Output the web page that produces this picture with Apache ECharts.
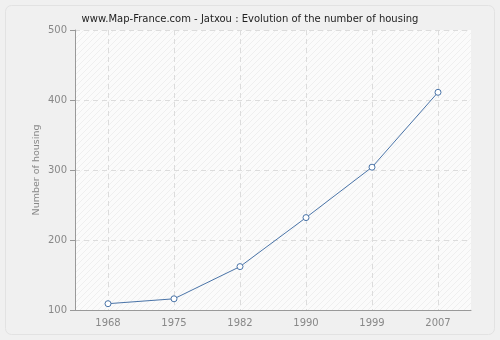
<!DOCTYPE html>
<html><head><meta charset="utf-8">
<script src="https://cdn.jsdelivr.net/npm/echarts@6/dist/echarts.min.js"></script>
<style>html,body{margin:0;padding:0;background:#f0f0f0}#c{width:500px;height:340px}</style>
</head><body><div id="c"></div>
<script>
var years = ['1968','1975','1982','1990','1999','2007'];
var housing = [109, 116, 162, 232, 304, 411];
var yTicks = [100, 200, 300, 400, 500];

var pc = document.createElement('canvas');
pc.width = 6; pc.height = 6;
var g = pc.getContext('2d');
g.fillStyle = '#fbfbfb'; g.fillRect(0,0,6,6);
g.strokeStyle = '#efefef'; g.lineWidth = 1;
g.beginPath(); g.moveTo(0,6); g.lineTo(6,0); g.stroke();
g.beginPath(); g.moveTo(-1,1); g.lineTo(1,-1); g.stroke();
g.beginPath(); g.moveTo(5,7); g.lineTo(7,5); g.stroke();

// helper axis with half-step slots so vertical grid lines pass through category centers
var halfSlots = [];
for (var i = 0; i <= years.length * 2; i++) halfSlots.push(String(i));

var labelFont = {color:'#888', fontFamily:'DejaVu Sans', fontSize:10};
var dash = {color:'#dcdcdc', type:[5,4], width:1};

var chart = echarts.init(document.getElementById('c'), null, {renderer:'canvas'});
chart.setOption({
  backgroundColor: '#f0f0f0',
  animation: false,
  graphic: [{type:'rect', shape:{x:5.5,y:5.5,width:489,height:329,r:6}, style:{fill:'#f0f0f0', stroke:'#e2e2e2', lineWidth:1}, z:-10}],
  title: {text:'www.Map-France.com - Jatxou : Evolution of the number of housing', left:'center', top:9,
    textStyle:{fontFamily:'DejaVu Sans', fontSize:10, fontWeight:'normal', color:'#222'}},
  grid: {left:75, right:29, top:30, bottom:30, show:true, borderWidth:0, backgroundColor:{image:pc, repeat:'repeat'}},
  xAxis: [{type:'category', data:years, boundaryGap:true,
    axisLine:{lineStyle:{color:'#999'}}, axisTick:{alignWithLabel:true, length:5, lineStyle:{color:'#999'}},
    axisLabel:Object.assign({margin:8}, labelFont),
    splitLine:{show:false}},
   {type:'category', data:halfSlots, boundaryGap:false, position:'bottom',
    axisLine:{show:false}, axisTick:{show:false}, axisLabel:{show:false},
    splitLine:{show:true, interval:function(idx){return idx % 2 === 1;}, lineStyle:dash}}],
  yAxis: {type:'value', min:100, max:500, interval:100, name:'Number of housing', nameLocation:'middle', nameGap:33,
    nameMoveOverlap:false,
    nameTextStyle:{color:'#888', fontFamily:'DejaVu Sans', fontSize:9.5},
    axisLine:{show:true, lineStyle:{color:'#999'}}, axisTick:{show:true, length:5, lineStyle:{color:'#999'}},
    axisLabel:Object.assign({margin:8}, labelFont),
    splitLine:{show:true, lineStyle:dash}},
  series: [{type:'line', data:housing, xAxisIndex:0, symbol:'circle', symbolSize:6,
    lineStyle:{color:'#4a74a8', width:1}, itemStyle:{color:'#fff', borderColor:'#4a74a8', borderWidth:1}}]
});
</script></body></html>
